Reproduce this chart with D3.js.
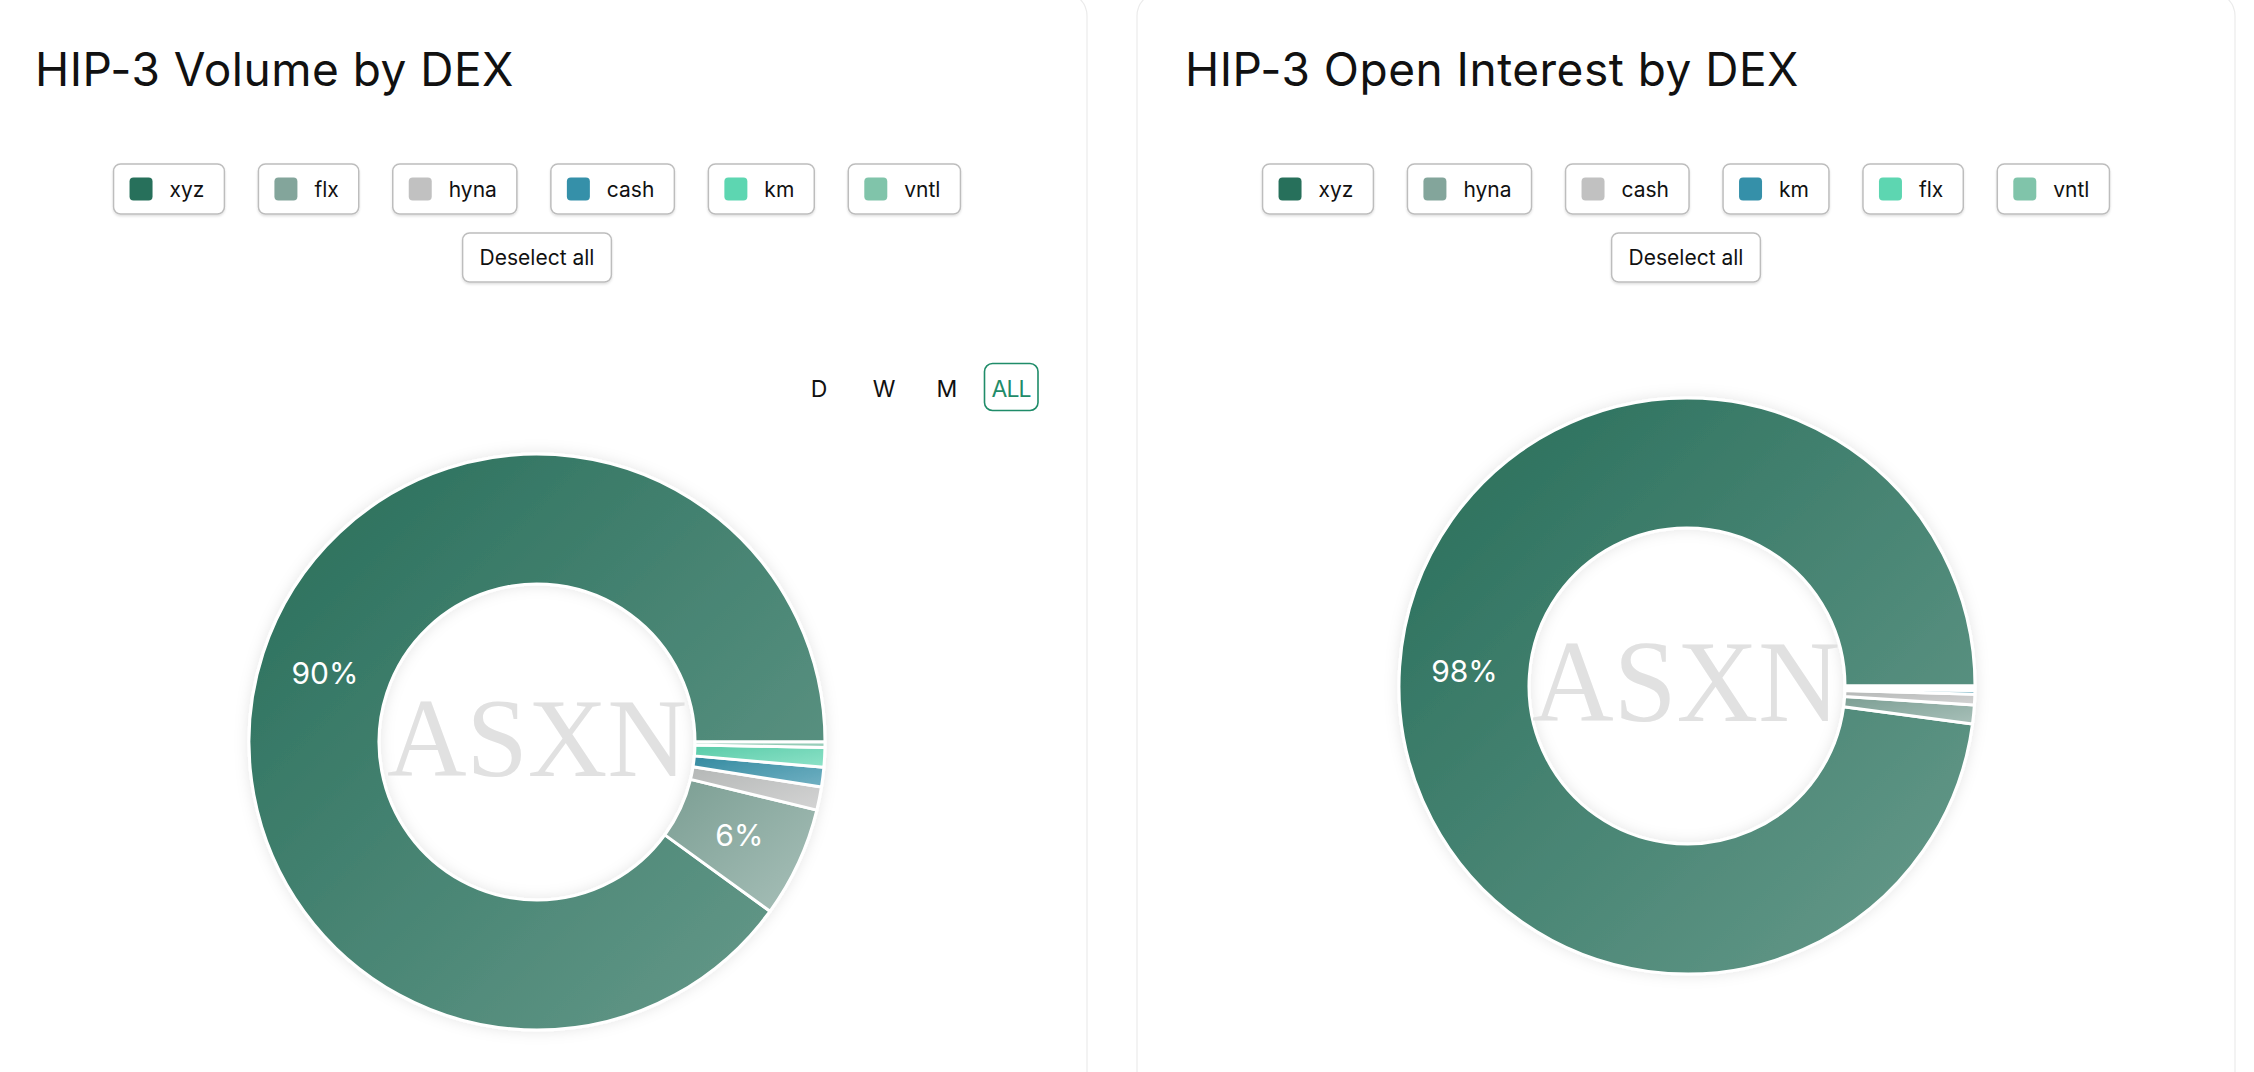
<!DOCTYPE html>
<html><head><meta charset="utf-8">
<script src="https://cdn.jsdelivr.net/npm/d3@7"></script>
<style>
html,body{margin:0;padding:0;background:#fff;overflow:hidden;}
svg{display:block;}
</style></head><body>
<svg id="chart" width="2254" height="1072"></svg>
<script>
// ---- data ----
const volumeTitle = "HIP-3 Volume by DEX";
const volumeDex = ["xyz", "flx", "hyna", "cash", "km", "vntl"];
const volumeShare = [90.0, 6.2, 1.3, 1.1, 1.1, 0.3];

const oiTitle = "HIP-3 Open Interest by DEX";
const oiDex = ["xyz", "hyna", "cash", "km", "flx", "vntl"];
const oiShare = [97.9, 1.05, 0.6, 0.2, 0.15, 0.1];

const palette = ["#27705b", "#83a59b", "#c1c1c1", "#3590a9", "#5dd6b1", "#80c4aa"];
const rangeButtons = ["D", "W", "M", "ALL"];
const activeRange = "ALL";
const deselectLabel = "Deselect all";
const watermark = "ASXN";

// ---- layout ----
const svg = d3.select("#chart");
const defs = svg.append("defs");
const FONT = "Inter, 'Noto Sans', 'Liberation Sans', sans-serif";

const shadow = defs.append("filter").attr("id", "donutShadow")
  .attr("x", "-20%").attr("y", "-20%").attr("width", "140%").attr("height", "140%");
shadow.append("feDropShadow").attr("dx", 0).attr("dy", 0).attr("stdDeviation", 7)
  .attr("flood-color", "#000").attr("flood-opacity", 0.10);

const btnShadow = defs.append("filter").attr("id", "btnShadow")
  .attr("x", "-10%").attr("y", "-20%").attr("width", "120%").attr("height", "160%");
btnShadow.append("feDropShadow").attr("dx", 0).attr("dy", 1.5).attr("stdDeviation", 1.2)
  .attr("flood-color", "#000").attr("flood-opacity", 0.13);

const panels = [
  { key: "vol", x: -13, w: 1100, title: volumeTitle, dex: volumeDex, share: volumeShare,
    cx: 537, cy: 742, wmX: 537, wmY: 776, wmW: 300, wmSize: 113, range: true },
  { key: "oi", x: 1137, w: 1098, title: oiTitle, dex: oiDex, share: oiShare,
    cx: 1687, cy: 686, wmX: 1686, wmY: 721, wmW: 308, wmSize: 117, range: false }
];

const inner = 158, outer = 288;
const arc = d3.arc().innerRadius(inner).outerRadius(outer);
const pie = d3.pie().sort(null).value(d => d.v)
  .startAngle(Math.PI / 2).endAngle(Math.PI / 2 - 2 * Math.PI);

panels.forEach(p => {
  const g = svg.append("g");
  // card
  g.append("rect").attr("x", p.x).attr("y", -8).attr("width", p.w).attr("height", 1200)
    .attr("rx", 24).attr("fill", "#fff").attr("stroke", "#ebebeb").attr("stroke-width", 1.2);

  // title
  g.append("text").attr("x", p.x + 48).attr("y", 86)
    .attr("font-family", FONT).attr("font-size", 46).attr("letter-spacing", 0.5).attr("fill", "#111")
    .text(p.title);

  const color = d3.scaleOrdinal().domain(p.dex).range(palette);
  const centerX = p.x + p.w / 2;

  // legend buttons
  const lg = g.append("g");
  const items = p.dex.map(name => {
    const b = lg.append("g");
    const t = b.append("text").attr("font-family", FONT).attr("font-size", 21)
      .attr("fill", "#111").attr("y", 197).text(name);
    const tw = t.node().getComputedTextLength();
    return { b, t, tw, w: 16 + 23 + 17 + tw + 20, name };
  });
  const gap = 34;
  const total = d3.sum(items, d => d.w) + gap * (items.length - 1);
  let cur = centerX - total / 2;
  items.forEach(it => {
    it.b.insert("rect", "text").attr("x", cur).attr("y", 164).attr("width", it.w).attr("height", 50)
      .attr("rx", 7).attr("fill", "#fff").attr("stroke", "#bdbdbd").attr("stroke-width", 1.5)
      .attr("filter", "url(#btnShadow)");
    it.b.insert("rect", "text").attr("x", cur + 16).attr("y", 177.5).attr("width", 23).attr("height", 23)
      .attr("rx", 4).attr("fill", color(it.name));
    it.t.attr("x", cur + 56);
    cur += it.w + gap;
  });

  // deselect all
  const dg = g.append("g");
  const dt = dg.append("text").attr("font-family", FONT).attr("font-size", 21)
    .attr("fill", "#111").attr("y", 265).attr("text-anchor", "middle").attr("x", centerX)
    .text(deselectLabel);
  const dw = dt.node().getComputedTextLength() + 34;
  dg.insert("rect", "text").attr("x", centerX - dw / 2).attr("y", 233).attr("width", dw).attr("height", 49)
    .attr("rx", 7).attr("fill", "#fff").attr("stroke", "#bdbdbd").attr("stroke-width", 1.5)
    .attr("filter", "url(#btnShadow)");

  // range buttons
  if (p.range) {
    const rx = [819, 884, 947, 1011];
    rangeButtons.forEach((r, i) => {
      const active = r === activeRange;
      if (active) {
        g.append("rect").attr("x", 984.5).attr("y", 363.5).attr("width", 53.5).attr("height", 47)
          .attr("rx", 8).attr("fill", "#fff").attr("stroke", "#1f8c69").attr("stroke-width", 1.6);
      }
      g.append("text").attr("x", rx[i]).attr("y", 397).attr("text-anchor", "middle")
        .attr("font-family", FONT).attr("font-size", 23)
        .attr("letter-spacing", active ? -1 : 0)
        .attr("fill", active ? "#1f8c69" : "#111").text(r);
    });
  }

  // donut
  const data = p.dex.map((n, i) => ({ name: n, v: p.share[i] }));
  const total2 = d3.sum(data, d => d.v);
  const arcs = pie(data);
  const dg2 = g.append("g").attr("transform", `translate(${p.cx},${p.cy})`);
  arcs.forEach((a, i) => {
    const base = d3.color(color(a.data.name));
    const light = d3.interpolateRgb(base, "#ffffff")(0.3);
    const id = `grad-${p.key}-${i}`;
    const lgd = defs.append("linearGradient").attr("id", id)
      .attr("x1", 0).attr("y1", 0).attr("x2", 1).attr("y2", 1);
    lgd.append("stop").attr("offset", "0%").attr("stop-color", d3.interpolateRgb(base, "#1a4a3d")(0.08));
    lgd.append("stop").attr("offset", "100%").attr("stop-color", light);
  });
  const sg = dg2.append("g").attr("filter", "url(#donutShadow)");
  sg.selectAll("path").data(arcs).join("path")
    .attr("d", arc)
    .attr("fill", (d, i) => `url(#grad-${p.key}-${i})`)
    .attr("stroke", "#fff").attr("stroke-width", 3).attr("stroke-linejoin", "round");

  // labels
  dg2.selectAll("text.lbl").data(arcs.filter(a => a.data.v / total2 >= 0.05)).join("text")
    .attr("class", "lbl")
    .attr("transform", d => `translate(${arc.centroid(d)})`)
    .attr("text-anchor", "middle").attr("dy", "0.36em")
    .attr("font-family", FONT).attr("font-size", 30).attr("fill", "#fff")
    .text(d => Math.round(d.data.v / total2 * 100) + "%");

  // watermark
  g.append("text").attr("x", p.wmX).attr("y", p.wmY).attr("text-anchor", "middle")
    .attr("font-family", "'Liberation Serif', 'DejaVu Serif', serif")
    .attr("font-size", p.wmSize).attr("fill", "#e1e1e1")
    .attr("textLength", p.wmW).attr("lengthAdjust", "spacingAndGlyphs")
    .text(watermark);
});
</script>
</body></html>
